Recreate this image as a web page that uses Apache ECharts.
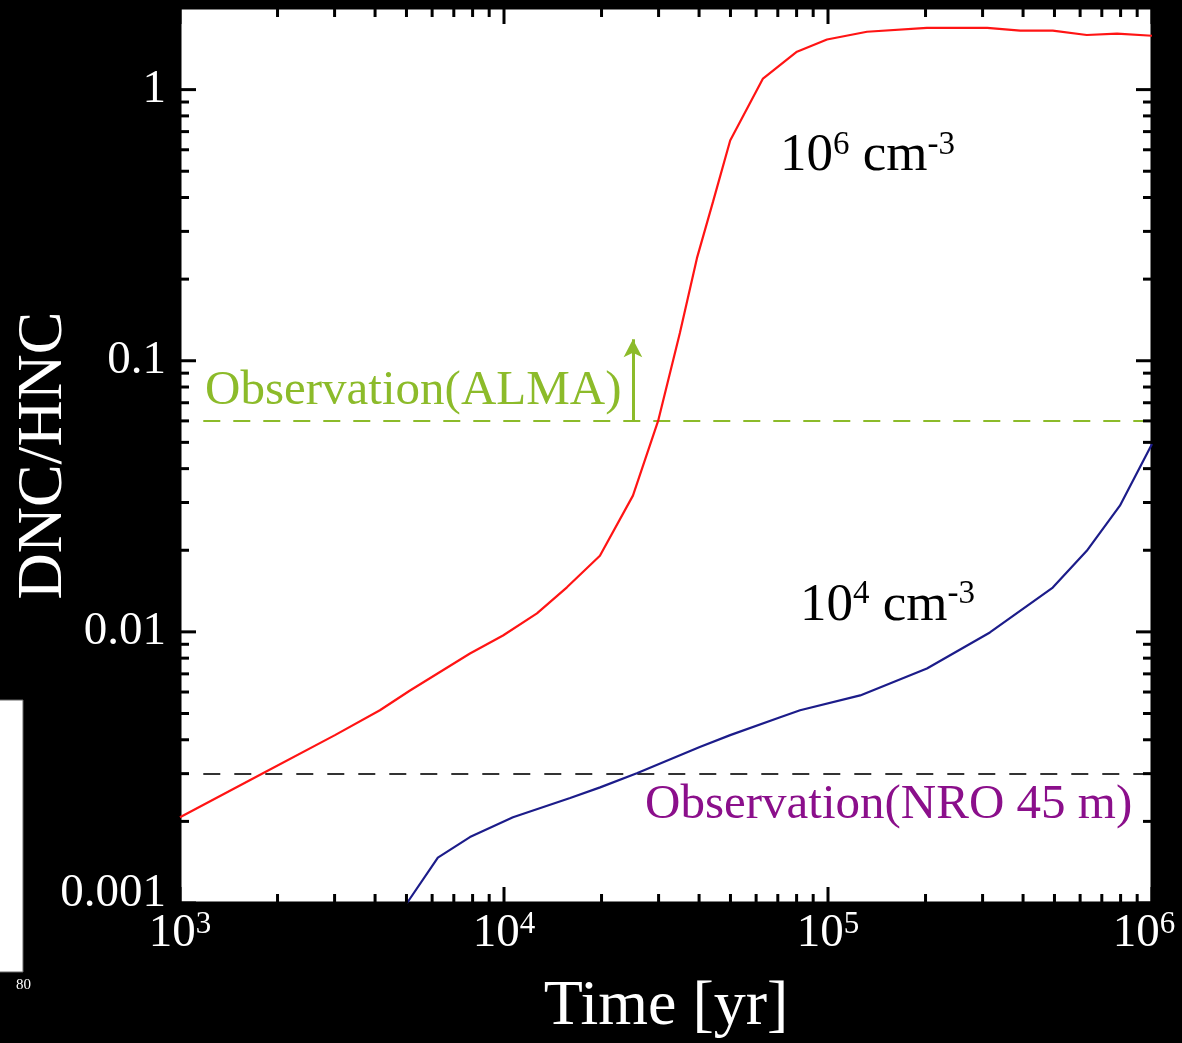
<!DOCTYPE html>
<html>
<head>
<meta charset="utf-8">
<script src="https://cdn.jsdelivr.net/npm/echarts@6/dist/echarts.min.js"></script>
<style>
html,body{margin:0;padding:0;background:#000;}
#c{width:1182px;height:1043px;}
</style>
</head>
<body>
<div id="c"></div>
<script>
// ---- data ----
const timeRed = [1000, 1803, 3008, 4140, 5128, 7852, 9930, 12640, 15640, 19770, 25000, 29900, 34900, 39400, 44200, 49900, 63000, 80200, 99300, 131900, 202000, 310000, 392000, 494000, 629000, 780000, 1000000];
const valRed  = [0.00207, 0.00301, 0.00416, 0.00514, 0.00608, 0.00832, 0.0097, 0.0117, 0.0146, 0.0191, 0.0318, 0.060, 0.1265, 0.239, 0.387, 0.649, 1.098, 1.38, 1.53, 1.635, 1.69, 1.69, 1.65, 1.65, 1.59, 1.61, 1.58];
const timeBlue = [5020, 6250, 7850, 10660, 16000, 19800, 25700, 40200, 49900, 71200, 82000, 125700, 202000, 316000, 494000, 629000, 796000, 1000000];
const valBlue  = [0.001, 0.00147, 0.00175, 0.00207, 0.00244, 0.00267, 0.00301, 0.00376, 0.00416, 0.00484, 0.00514, 0.00583, 0.00733, 0.00995, 0.01457, 0.0199, 0.0292, 0.0493];
const obsALMA = 0.06;      // lower limit (ALMA)
const obsNRO = 0.003;      // NRO 45 m
const arrowTime = 25000;
const arrowTop = 0.12;
const xRange = [1000, 1000000];
const yRange = [0.001, 2];
const yTickLabels = {'-3': '0.001', '-2': '0.01', '-1': '0.1', '0': '1'};
const xMajor = [1e3, 1e4, 1e5, 1e6];
const yMajor = [0.001, 0.01, 0.1, 1];
const mult = [2, 3, 4, 5, 6, 7, 8, 9];

const FONT = '"Liberation Serif", "Times New Roman", serif';

// tick items for custom series
const tickData = [];
xMajor.forEach(v => tickData.push([v, yRange[0], 1, 1]));
xMajor.slice(0, 3).forEach(d => mult.forEach(m => tickData.push([d * m, yRange[0], 0, 1])));
yMajor.forEach(v => tickData.push([xRange[0], v, 1, 0]));
yMajor.slice(0, 3).forEach(d => mult.forEach(m => tickData.push([xRange[0], d * m, 0, 0])));

function isPow10(v) {
  const l = Math.log10(v);
  return Math.abs(l - Math.round(l)) < 1e-6;
}

const chart = echarts.init(document.getElementById('c'), null, {renderer: 'canvas'});
chart.setOption({
  backgroundColor: '#000',
  animation: false,
  grid: {left: 180, right: 30, top: 8, bottom: 140, show: true, backgroundColor: '#fff', borderColor: '#000', borderWidth: 3,
         containLabel: false, outerBoundsMode: 'none'},
  xAxis: {
    type: 'log', logBase: 10, min: xRange[0], max: xRange[1],
    axisLine: {show: false}, axisTick: {show: false}, splitLine: {show: false},
    axisLabel: {
      margin: 6, color: '#fff',
      formatter: v => {
        if (!isPow10(v)) return '';
        const e = Math.round(Math.log10(v));
        return e === 6 ? '{a|10}{c|' + e + '}' : '{a|10}{b|' + e + '}';
      },
      rich: {
        a: {fontFamily: FONT, fontSize: 47, color: '#fff', lineHeight: 50},
        b: {fontFamily: FONT, fontSize: 31, color: '#fff', verticalAlign: 'top', lineHeight: 34},
        c: {fontFamily: FONT, fontSize: 31, color: '#fff', verticalAlign: 'top', lineHeight: 34, padding: [0, 16, 0, 0]}
      }
    },
    name: 'Time [yr]', nameLocation: 'middle', nameGap: 72, nameMoveOverlap: false,
    nameTextStyle: {fontFamily: FONT, fontSize: 64, color: '#fff'}
  },
  yAxis: {
    type: 'log', logBase: 10, min: yRange[0], max: yRange[1],
    axisLine: {show: false}, axisTick: {show: false}, splitLine: {show: false},
    axisLabel: {
      margin: 14, color: '#fff', fontFamily: FONT, fontSize: 47,
      formatter: v => {
        if (!isPow10(v)) return '';
        const e = Math.round(Math.log10(v));
        const s = yTickLabels[String(e)] || '';
        return e === -3 ? '{low|' + s + '}' : s;
      },
      rich: {
        low: {fontFamily: FONT, fontSize: 47, color: '#fff', padding: [0, 0, 18, 0]}
      }
    },
    name: 'DNC/HNC', nameLocation: 'middle', nameGap: 104, nameMoveOverlap: false,
    nameTextStyle: {fontFamily: FONT, fontSize: 64, color: '#fff'}
  },
  series: [
    {
      type: 'line', name: '1e6', data: timeRed.map((t, i) => [t, valRed[i]]),
      showSymbol: false, symbol: 'none', lineStyle: {color: '#ff1414', width: 2.2}, z: 5,
      markPoint: {
        symbol: 'circle', symbolSize: 0,
        label: {show: true, position: 'right', distance: 0},
        data: [{
          coord: [71100, 0.567],
          label: {
            formatter: '{a|10}{b|6}{a| cm}{b|-3}',
            rich: {
              a: {fontFamily: FONT, fontSize: 53, color: '#000', lineHeight: 56},
              b: {fontFamily: FONT, fontSize: 33, color: '#000', verticalAlign: 'top', lineHeight: 36}
            }
          }
        }]
      }
    },
    {
      type: 'line', name: '1e4', data: timeBlue.map((t, i) => [t, valBlue[i]]),
      showSymbol: false, symbol: 'none', lineStyle: {color: '#1c1c8a', width: 2.2}, z: 5,
      markPoint: {
        symbol: 'circle', symbolSize: 0,
        label: {show: true, position: 'right', distance: 0},
        data: [{
          coord: [82000, 0.0125],
          label: {
            formatter: '{a|10}{b|4}{a| cm}{b|-3}',
            rich: {
              a: {fontFamily: FONT, fontSize: 53, color: '#000', lineHeight: 56},
              b: {fontFamily: FONT, fontSize: 33, color: '#000', verticalAlign: 'top', lineHeight: 36}
            }
          }
        }]
      }
    },
    {
      type: 'line', name: 'obs', data: [], z: 4,
      markLine: {
        silent: true, symbol: 'none', label: {show: false},
        data: [
          [{coord: [1180, obsALMA], lineStyle: {color: '#8cbb2a', width: 2, type: [17, 13]}}, {coord: [xRange[1], obsALMA]}],
          [{coord: [1180, obsNRO], lineStyle: {color: '#333', width: 2, type: [17, 14]}}, {coord: [xRange[1], obsNRO]}],
          [{coord: [arrowTime, obsALMA], symbol: 'none', lineStyle: {color: '#8cbb2a', width: 3, type: 'solid'}},
           {coord: [arrowTime, arrowTop], symbol: 'arrow', symbolSize: [14, 18]}]
        ]
      },
      markPoint: {
        symbol: 'circle', symbolSize: 0,
        label: {show: true, position: 'right', distance: 0},
        data: [
          {coord: [1195, 0.0774], label: {formatter: 'Observation(ALMA)', fontFamily: FONT, fontSize: 49, color: '#8cbb2a'}},
          {coord: [27250, 0.0023], label: {formatter: 'Observation(NRO 45 m)', fontFamily: FONT, fontSize: 49, color: '#8b0f8b'}}
        ]
      }
    },
    {
      type: 'custom', name: 'ticks', z: 10, silent: true,
      data: tickData,
      encode: {x: 0, y: 1},
      renderItem: function (params, api) {
        const major = api.value(2) === 1;
        const kind = api.value(3);
        const len = major ? 16 : 9;
        const st = {stroke: '#000', lineWidth: 3};
        if (kind === 0) {
          const v = api.value(1);
          const a = api.coord([xRange[0], v]);
          const b = api.coord([xRange[1], v]);
          return {type: 'group', children: [
            {type: 'line', shape: {x1: a[0], y1: a[1], x2: a[0] + len, y2: a[1]}, style: st},
            {type: 'line', shape: {x1: b[0] - len, y1: b[1], x2: b[0], y2: b[1]}, style: st}
          ]};
        } else {
          const t = api.value(0);
          const a = api.coord([t, yRange[0]]);
          const b = api.coord([t, yRange[1]]);
          return {type: 'group', children: [
            {type: 'line', shape: {x1: a[0], y1: a[1], x2: a[0], y2: a[1] - len}, style: st},
            {type: 'line', shape: {x1: b[0], y1: b[1], x2: b[0], y2: b[1] + len}, style: st}
          ]};
        }
      }
    }
  ],
  graphic: [
    {type: 'rect', shape: {x: -5, y: 700, width: 28, height: 272}, style: {fill: '#fff', stroke: '#666', lineWidth: 1}, z: 1},
    {type: 'text', style: {x: 16, y: 978, text: '80', fontFamily: FONT, fontSize: 15, fill: '#fff'}},
    {type: 'text', style: {x: 2, y: 822, text: '2', fontFamily: FONT, fontSize: 14, fill: '#444'}}
  ]
});
</script>
</body>
</html>
